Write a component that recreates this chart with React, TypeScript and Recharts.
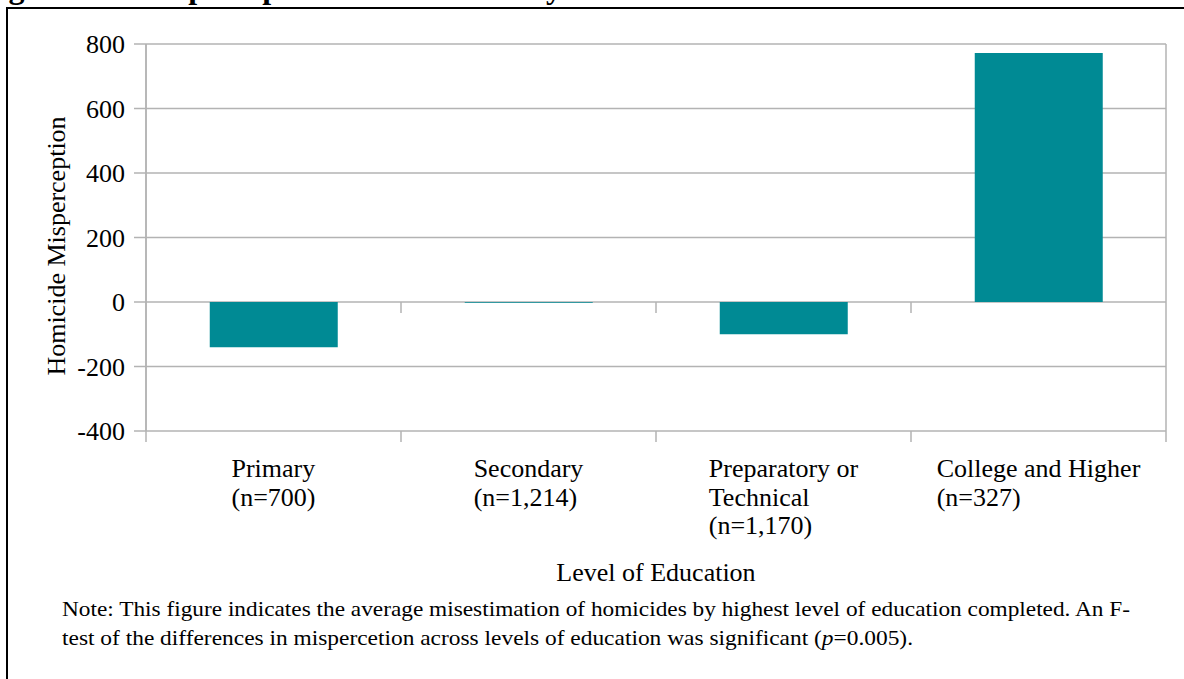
import React from "react";
import { BarChart, Bar, XAxis, YAxis, CartesianGrid } from "recharts";

// Level of education (label lines are split on "\n")
const categories = [
  "Primary\n(n=700)",
  "Secondary\n(n=1,214)",
  "Preparatory or\nTechnical\n(n=1,170)",
  "College and Higher\n(n=327)",
];
// Average homicide misperception per level
const misperception = [-140, -2, -100, 772];
const yTicks = [-400, -200, 0, 200, 400, 600, 800];

const Y_MIN = -400;
const Y_MAX = 800;
const BAR_COLOR = "#008a94";
const GRID = "#b3b3b3";
const FONT = "'Liberation Serif', 'Times New Roman', serif";
const FONT_SIZE = 26;
const MARGIN = { top: 44, right: 18, left: 36, bottom: 9 };
const CHART_W = 1184;
const PLOT_W = CHART_W - MARGIN.left - MARGIN.right - 110;
const TICK_LEN = 11;

const data = categories.map((name, i) => ({ name, value: misperception[i] }));

let ctx: CanvasRenderingContext2D | null = null;
function textWidth(s: string) {
  if (!ctx) ctx = document.createElement("canvas").getContext("2d");
  if (!ctx) return s.length * FONT_SIZE * 0.45;
  ctx.font = `${FONT_SIZE}px ${FONT}`;
  return ctx.measureText(s).width;
}

// multi-line label, block centred under the category, lines left-aligned,
// plus the boundary tick marks (on the zero line and below the plot)
const CategoryTick = ({ x, y, payload, index }: any) => {
  const lines = String(payload.value).split("\n");
  const w = Math.max(...lines.map(textWidth));
  const half = payload.offset > 0 ? payload.offset : PLOT_W / categories.length / 2;
  const zeroY = y - ((y - MARGIN.top) * (0 - Y_MIN)) / (Y_MAX - Y_MIN);
  const left = x - half;
  const right = x + half;
  return (
    <g>
      <line x1={left} x2={left} y1={y} y2={y + TICK_LEN} stroke={GRID} strokeWidth={1.5} />
      {index === categories.length - 1 && (
        <line x1={right} x2={right} y1={y} y2={y + TICK_LEN} stroke={GRID} strokeWidth={1.5} />
      )}
      {index > 0 && (
        <line x1={left} x2={left} y1={zeroY} y2={zeroY + TICK_LEN} stroke={GRID} strokeWidth={1.5} />
      )}
      <text x={x - w / 2} y={y + 46} fontFamily={FONT} fontSize={FONT_SIZE} fill="#000">
        {lines.map((l, i) => (
          <tspan key={i} x={x - w / 2} dy={i === 0 ? 0 : 28.5}>
            {l}
          </tspan>
        ))}
      </text>
    </g>
  );
};

const YTitle = ({ viewBox }: any) => {
  const cx = viewBox.x + 20;
  const cy = viewBox.y + viewBox.height / 2 + 8.5;
  return (
    <text
      x={cx}
      y={cy}
      transform={`rotate(-90, ${cx}, ${cy})`}
      textAnchor="middle"
      dominantBaseline="central"
      fontFamily={FONT}
      fontSize={FONT_SIZE}
      fill="#000"
    >
      Homicide Misperception
    </text>
  );
};

const XTitle = ({ viewBox }: any) => (
  <text
    x={viewBox.x + viewBox.width / 2}
    y={viewBox.y + 150}
    textAnchor="middle"
    fontFamily={FONT}
    fontSize={FONT_SIZE}
    fill="#000"
  >
    Level of Education
  </text>
);

export default function App() {
  return (
    <div
      style={{
        position: "fixed",
        left: 0,
        top: 0,
        width: 1184,
        height: 679,
        overflow: "hidden",
        background: "#fff",
        fontFamily: FONT,
      }}
    >
      {/* caption of the page, cut off by the top edge */}
      <svg style={{ position: "absolute", left: 0, top: 0 }} width={1184} height={20}>
        <text x={-20} y={-2} fontFamily={FONT} fontWeight="bold" fontSize={32} fill="#000">
          Figure 3.5: Misperception of Homicides by Level of Education
        </text>
      </svg>
      <div
        style={{
          position: "absolute",
          left: 6,
          top: 7,
          width: 1300,
          height: 800,
          borderTop: "2px solid #000",
          borderLeft: "2px solid #000",
        }}
      />
      <div style={{ position: "absolute", left: 0, top: 0 }}>
        <BarChart width={CHART_W} height={600} data={data} margin={MARGIN} barCategoryGap="25%">
          <CartesianGrid
            stroke={GRID}
            strokeWidth={1.5}
            vertical={true}
            verticalCoordinatesGenerator={({ offset }: any) => [offset.left, offset.left + offset.width]}
          />
          <XAxis
            dataKey="name"
            interval={0}
            tick={<CategoryTick />}
            tickLine={false}
            tickSize={0}
            tickMargin={0}
            axisLine={false}
            height={160}
            label={<XTitle />}
          />
          <YAxis
            domain={[Y_MIN, Y_MAX]}
            ticks={yTicks}
            interval={0}
            width={110}
            tickSize={12}
            tickMargin={9}
            axisLine={{ stroke: GRID, strokeWidth: 1.5 }}
            tickLine={{ stroke: GRID, strokeWidth: 1.5 }}
            tick={{ fill: "#000", fontFamily: FONT, fontSize: FONT_SIZE }}
            label={<YTitle />}
          />
          <Bar dataKey="value" fill={BAR_COLOR} isAnimationActive={false} />
        </BarChart>
      </div>
      <svg style={{ position: "absolute", left: 0, top: 580 }} width={1184} height={99}>
        <text x={62} y={36} fontFamily={FONT} fontSize={21} fill="#000" textLength={1068} lengthAdjust="spacingAndGlyphs">
          Note: This figure indicates the average misestimation of homicides by highest level of education completed. An F-
        </text>
        <text x={62} y={65} fontFamily={FONT} fontSize={21} fill="#000" textLength={851} lengthAdjust="spacingAndGlyphs">
          test of the differences in mispercetion across levels of education was significant (
          <tspan fontStyle="italic">p</tspan>=0.005).
        </text>
      </svg>
    </div>
  );
}
